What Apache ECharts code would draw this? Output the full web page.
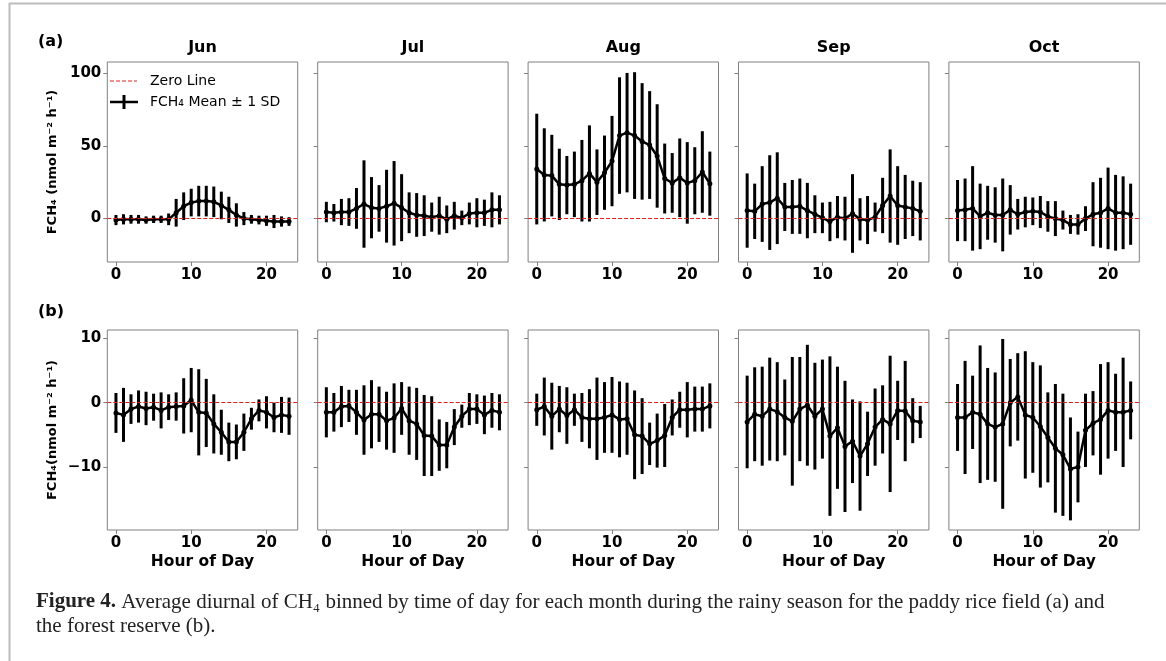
<!DOCTYPE html>
<html>
<head>
<meta charset="utf-8">
<script src="https://cdn.jsdelivr.net/npm/echarts@6/dist/echarts.min.js"></script>
<style>
  html, body { margin: 0; padding: 0; background: #fff; }
  #chart { width: 1166px; height: 661px; }
</style>
</head>
<body>
<div id="chart"></div>
<script>
const months = ['Jun', 'Jul', 'Aug', 'Sep', 'Oct']
const hours = [0, 1, 2, 3, 4, 5, 6, 7, 8, 9, 10, 11, 12, 13, 14, 15, 16, 17, 18, 19, 20, 21, 22, 23]
const xTicks = [0, 10, 20]
const paddyTicks = [0, 50, 100]
const forestTicks = [-10, 0, 10]

// (a) paddy rice field
const paddyJunMean = [-1, -0.5, -0.5, -0.5, -1, -0.5, -0.5, -0.5, 4, 8.5, 11, 12, 12, 11.5, 9, 6, 2.5, 0, -0.5, -1, -1.5, -2, -2, -2]
const paddyJunSd = [3.5, 3.5, 3, 3, 2.5, 2.5, 2.5, 4, 9.5, 9.5, 9.5, 10.5, 10.5, 10.5, 9.5, 9, 8, 4.5, 3, 3, 3.5, 4.5, 3.5, 3]
const paddyJulMean = [4.5, 4, 4.5, 4.5, 7, 10, 7.5, 7, 8.5, 10.5, 7.5, 4, 2.5, 2, 1, 2, -0.5, 2, 0.5, 3.5, 4, 4, 6, 6]
const paddyJulSd = [7, 6, 9, 9.5, 14, 30, 21, 16, 25, 29, 23, 14, 15, 14, 10, 13, 9.5, 9.5, 5, 7.5, 10, 9, 12, 10]
const paddyAugMean = [34, 30, 29.5, 23.5, 23, 23.5, 26, 31, 25, 31.5, 39.5, 57, 59, 57, 53, 50.5, 43, 27.5, 24.5, 28, 24.5, 26, 32, 24]
const paddyAugSd = [38, 32, 28, 24.5, 20, 22.5, 28, 33, 22.5, 25.5, 31, 40, 41, 43.5, 40, 37, 35.5, 24, 20.5, 27, 28, 23, 28, 22]
const paddySepMean = [5.5, 5, 10, 11, 14, 8, 8, 8.5, 5.5, 3, 0.5, -2, 1, 0, 3.5, -0.5, -1, 1, 9, 15.5, 9, 8, 7, 5]
const paddySepSd = [25.5, 19, 26, 32.5, 31.5, 16.5, 18.5, 19, 19, 13, 10.5, 13.5, 14.5, 15, 27, 14.5, 16.5, 10, 19, 32, 27, 22, 19, 20]
const paddyOctMean = [5.5, 6, 7, 1.5, 4, 2.5, 2.5, 6, 3, 4.5, 5, 4.5, 1.5, 0, -1, -4, -4, 0, 3, 4, 7, 4, 4, 3]
const paddyOctSd = [21, 21.5, 29, 22.5, 18.5, 19, 25, 17, 10.5, 10.5, 9.5, 11, 10.5, 12, 6.5, 6.5, 7, 8.5, 22, 24, 28, 26, 25, 21]

// (b) forest reserve
const forestJunMean = [-1.6, -1.9, -1, -0.6, -0.9, -0.7, -1.2, -0.7, -0.6, -0.5, 0.4, -1.5, -1.6, -3.3, -4.6, -6.1, -6.1, -4.6, -2.5, -1.2, -1.5, -2.3, -1.9, -2.1]
const forestJunSd = [3.1, 4.2, 2.3, 2.5, 2.6, 2.1, 2.8, 2, 2.2, 4.3, 5, 6.7, 5.3, 4.6, 3.5, 3, 2.7, 2.9, 1.7, 1.7, 2.5, 2.3, 2.8, 2.9]
const forestJulMean = [-1.5, -1.5, -0.6, -0.5, -1.5, -2.7, -1.8, -1.8, -2.8, -2.4, -0.9, -2.8, -3.3, -5.1, -5.2, -6.6, -6.6, -3.8, -2.1, -1, -1, -1.9, -1.2, -1.5]
const forestJulSd = [3.9, 3, 3.2, 2.5, 3.5, 5.4, 5.3, 4.3, 4.5, 5.4, 4.1, 5.3, 5.6, 6.3, 6.2, 4, 3.6, 2.8, 1.8, 2.5, 2.3, 3, 2.7, 2.8]
const forestAugMean = [-1.1, -0.6, -2.1, -1, -2, -1.1, -2.3, -2.5, -2.5, -2.3, -1.9, -2.6, -2.5, -5, -5.2, -6.4, -5.9, -5.1, -2.3, -1.1, -1.1, -1, -1, -0.5]
const forestAugSd = [2.5, 4.5, 5.2, 3.6, 4.4, 2.5, 3.8, 4.6, 6.4, 5.5, 5.9, 5.9, 5.6, 6.9, 5.9, 3.3, 4.2, 4.9, 2.8, 2.8, 4.3, 3.5, 3.5, 3.5]
const forestSepMean = [-3, -1.8, -2.1, -1, -1.4, -2.3, -2.9, -1, -0.4, -2.1, -1, -5.2, -3.9, -6.8, -6, -8.3, -6.4, -3.8, -2.6, -3.3, -1.2, -1.3, -2.8, -3]
const forestSepSd = [7.2, 7.3, 7.7, 8, 7.7, 5.9, 10, 8.1, 9.4, 8.3, 7.7, 12.4, 9.5, 10.2, 6.5, 8.5, 5, 6, 5.3, 10.6, 4.6, 7.8, 3.5, 2.5]
const forestOctMean = [-2.3, -2.3, -1.5, -1.8, -3.3, -3.8, -3.3, 0, 0.9, -1.9, -2.3, -3.7, -5.4, -7.1, -8.1, -10.3, -10, -4.3, -3.2, -2.6, -1.2, -1.5, -1.5, -1.2]
const forestOctSd = [5.2, 8.8, 5.7, 10.7, 8.7, 8.5, 13.2, 6.8, 6.8, 9.9, 8.6, 9.5, 7, 10, 9.5, 8, 5.5, 5.7, 5, 8.6, 7.5, 6, 8.5, 4.5]

const paddyMeans = [paddyJunMean, paddyJulMean, paddyAugMean, paddySepMean, paddyOctMean]
const paddySds = [paddyJunSd, paddyJulSd, paddyAugSd, paddySepSd, paddyOctSd]
const forestMeans = [forestJunMean, forestJulMean, forestAugMean, forestSepMean, forestOctMean]
const forestSds = [forestJunSd, forestJulSd, forestAugSd, forestSepSd, forestOctSd]

const FONT = 'DejaVu Sans'
const FRAME = '#808080'
const panelLeft = 107.3
const panelStep = 210.4
const panelW = 190.4
const panelH = 200
const rowTop = [62, 330]
const rowRange = [[-29.8, 107.5], [-19.8, 11.3]]
const rowTicks = [paddyTicks, forestTicks]
const rowName = ['FCH\u2084 (nmol m\u207b\u00b2 h\u207b\u00b9)', 'FCH\u2084(nmol m\u207b\u00b2 h\u207b\u00b9)']

const fmt = (v) => (v < 0 ? '\u2212' + Math.abs(v) : String(v))

const grids = []
const xAxes = []
const yAxes = []
const series = []
const graphics = []

for (let r = 0; r < 2; r++) {
  const means = r === 0 ? paddyMeans : forestMeans
  const sds = r === 0 ? paddySds : forestSds
  for (let c = 0; c < 5; c++) {
    const idx = r * 5 + c
    grids.push({
      left: panelLeft + c * panelStep, top: rowTop[r], width: panelW, height: panelH,
      show: true, borderColor: FRAME, borderWidth: 1, backgroundColor: '#fff'
    })
    xAxes.push({
      type: 'value', gridIndex: idx, min: -1.15, max: 24.15, position: 'bottom',
      axisLine: { show: false, onZero: false },
      splitLine: { show: false },
      axisTick: { show: true, length: 4, lineStyle: { color: FRAME }, customValues: xTicks },
      axisLabel: { show: true, customValues: xTicks, color: '#000', fontFamily: FONT, fontWeight: 'bold', fontSize: 15, margin: 6 },
      name: r === 1 ? 'Hour of Day' : '',
      nameLocation: 'middle', nameGap: 24,
      nameTextStyle: { color: '#000', fontFamily: FONT, fontWeight: 'bold', fontSize: 15.5 }
    })
    yAxes.push({
      type: 'value', gridIndex: idx, min: rowRange[r][0], max: rowRange[r][1], position: 'left',
      axisLine: { show: false, onZero: false },
      splitLine: { show: false },
      axisTick: { show: true, length: 4, lineStyle: { color: FRAME }, customValues: rowTicks[r] },
      axisLabel: { show: c === 0, customValues: rowTicks[r], formatter: fmt, color: '#000', fontFamily: FONT, fontWeight: 'bold', fontSize: 15, margin: 6 },
      name: c === 0 ? rowName[r] : '',
      nameLocation: 'middle', nameGap: 48, nameRotate: 90,
      nameTextStyle: { color: '#000', fontFamily: FONT, fontWeight: 'bold', fontSize: 13 }
    })

    const m = means[c]
    const s = sds[c]
    // zero line
    series.push({
      type: 'line', xAxisIndex: idx, yAxisIndex: idx, data: [], z: 1,
      markLine: {
        silent: true, symbol: 'none', label: { show: false },
        lineStyle: { color: '#e02020', width: 1, type: [4, 2] },
        data: [{ yAxis: 0 }]
      }
    })
    // error bars (mean +/- 1 SD)
    series.push({
      type: 'custom', xAxisIndex: idx, yAxisIndex: idx, z: 2,
      data: hours.map((h, i) => [h, m[i] - s[i], m[i] + s[i]]),
      renderItem: (params, api) => {
        const p0 = api.coord([api.value(0), api.value(1)])
        const p1 = api.coord([api.value(0), api.value(2)])
        return {
          type: 'line',
          shape: { x1: p0[0], y1: p0[1], x2: p1[0], y2: p1[1] },
          style: { stroke: '#000', lineWidth: 3 }
        }
      }
    })
    // mean line
    series.push({
      type: 'line', xAxisIndex: idx, yAxisIndex: idx, z: 3,
      data: hours.map((h, i) => [h, m[i]]),
      symbol: 'circle', symbolSize: 5, showSymbol: true,
      itemStyle: { color: '#000' },
      lineStyle: { color: '#000', width: 2.5 }
    })

    if (r === 0) {
      graphics.push({
        type: 'text', x: panelLeft + c * panelStep + panelW / 2, y: 48,
        style: { text: months[c], font: 'bold 16px "DejaVu Sans"', fill: '#000', textAlign: 'center', textVerticalAlign: 'middle' }
      })
    }
  }
}

// panel letters
graphics.push({ type: 'text', x: 38, y: 42, style: { text: '(a)', font: 'bold 16px "DejaVu Sans"', fill: '#000', textVerticalAlign: 'middle' } })
graphics.push({ type: 'text', x: 38, y: 312, style: { text: '(b)', font: 'bold 16px "DejaVu Sans"', fill: '#000', textVerticalAlign: 'middle' } })

// legend
graphics.push({ type: 'line', shape: { x1: 110, y1: 81, x2: 137, y2: 81 }, style: { stroke: '#e02020', lineWidth: 1, lineDash: [4, 2] } })
graphics.push({ type: 'text', x: 150, y: 81, style: { text: 'Zero Line', font: '14px "DejaVu Sans"', fill: '#000', textVerticalAlign: 'middle' } })
graphics.push({ type: 'line', shape: { x1: 110, y1: 102, x2: 138, y2: 102 }, style: { stroke: '#000', lineWidth: 2.5 } })
graphics.push({ type: 'line', shape: { x1: 124, y1: 95, x2: 124, y2: 109 }, style: { stroke: '#000', lineWidth: 3 } })
graphics.push({ type: 'text', x: 150, y: 102, style: { text: 'FCH\u2084 Mean \u00b1 1 SD', font: '14px "DejaVu Sans"', fill: '#000', textVerticalAlign: 'middle' } })

// outer frame
graphics.push({ type: 'line', shape: { x1: 9.5, y1: 3, x2: 9.5, y2: 661 }, style: { stroke: '#bbb', lineWidth: 2 } })
graphics.push({ type: 'line', shape: { x1: 9, y1: 3.5, x2: 1166, y2: 3.5 }, style: { stroke: '#bbb', lineWidth: 2 } })

// caption
graphics.push({
  type: 'text', x: 36, y: 590,
  style: {
    text: '{b|Figure 4.} Average diurnal of CH\u2084 binned by time of day for each month during the rainy season for the paddy rice field (a) and\nthe forest reserve (b).',
    font: '21px "Liberation Serif"', fill: '#222', lineHeight: 24,
    rich: { b: { fontFamily: 'Liberation Serif', fontWeight: 'bold', fontSize: 21, fill: '#222' } }
  }
})

const chart = echarts.init(document.getElementById('chart'), null, { renderer: 'canvas' })
chart.setOption({
  backgroundColor: '#fff',
  animation: false,
  grid: grids,
  xAxis: xAxes,
  yAxis: yAxes,
  series: series,
  graphic: graphics
})
</script>
</body>
</html>
